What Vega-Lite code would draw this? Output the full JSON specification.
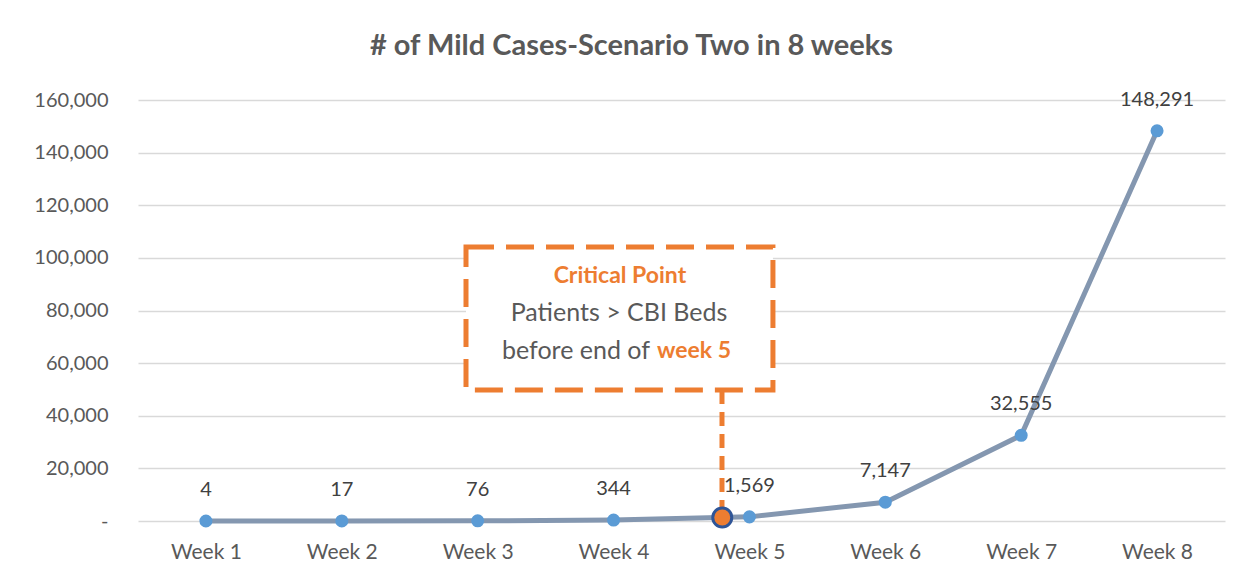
{
  "$schema": "https://vega.github.io/schema/vega-lite/v6.json",
  "width": 1087,
  "height": 421,
  "autosize": {"type": "none"},
  "padding": {"left": 138, "top": 100, "right": 21, "bottom": 59},
  "background": "white",
  "title": {
    "text": "# of Mild Cases-Scenario Two in 8 weeks",
    "font": "Lato",
    "fontSize": 29,
    "fontWeight": "bold",
    "color": "#595959",
    "anchor": "middle",
    "dx": -50,
    "offset": 29
  },
  "config": {
    "view": {"stroke": null},
    "font": "Lato"
  },
  "datasets": {
    "cases": [
      {"week": 1, "cases": 4},
      {"week": 2, "cases": 17},
      {"week": 3, "cases": 76},
      {"week": 4, "cases": 344},
      {"week": 5, "cases": 1569},
      {"week": 6, "cases": 7147},
      {"week": 7, "cases": 32555},
      {"week": 8, "cases": 148291}
    ],
    "box": [{"x1": 2.914, "x2": 5.173, "y1": 49786, "y2": 104133}],
    "rule": [{"x": 4.798, "y1": 49786, "y2": 1400}],
    "critical": [{"x": 4.8, "y": 1324}],
    "orangeCenter": [{"x": 4.047, "y": 93300, "t": "Critical Point"}],
    "grayCenter": [{"x": 4.04, "y": 79050, "t": "Patients > CBI Beds"}],
    "grayRight": [{"x": 4.268, "y": 64600, "t": "before end of"}],
    "orangeLeft": [{"x": 4.32, "y": 64600, "t": "week 5"}]
  },
  "layer": [
    {
      "data": {"name": "box"},
      "mark": {"type": "rect", "fill": "white", "stroke": "#ED7D31", "strokeWidth": 5, "strokeDash": [28, 12]},
      "encoding": {
        "x": {"field": "x1", "type": "quantitative", "scale": {"domain": [0.5, 8.5], "nice": false, "zero": false},
          "axis": {"values": [1,2,3,4,5,6,7,8], "labelExpr": "'Week ' + datum.value", "title": null, "domain": false, "ticks": false, "grid": false, "labelFont": "Lato", "labelFontSize": 21, "labelColor": "#595959", "labelPadding": 20}},
        "x2": {"field": "x2"},
        "y": {"field": "y1", "type": "quantitative", "scale": {"domain": [0, 160000], "nice": false},
          "axis": {"values": [0,20000,40000,60000,80000,100000,120000,140000,160000], "labelExpr": "datum.value == 0 ? '-       ' : format(datum.value, ',')", "title": null, "domain": false, "ticks": false, "grid": true, "gridColor": "#D9D9D9", "gridWidth": 1.3, "labelFont": "Lato", "labelFontSize": 20, "labelColor": "#595959", "labelPadding": 30}},
        "y2": {"field": "y2"}
      }
    },
    {
      "data": {"name": "rule"},
      "mark": {"type": "rule", "stroke": "#ED7D31", "strokeWidth": 5, "strokeDash": [14, 8]},
      "encoding": {
        "x": {"field": "x", "type": "quantitative"},
        "y": {"field": "y1", "type": "quantitative"},
        "y2": {"field": "y2"}
      }
    },
    {
      "data": {"name": "cases"},
      "mark": {"type": "line", "stroke": "#8497B0", "strokeWidth": 5},
      "encoding": {
        "x": {"field": "week", "type": "quantitative"},
        "y": {"field": "cases", "type": "quantitative"}
      }
    },
    {
      "data": {"name": "cases"},
      "mark": {"type": "point", "filled": true, "fill": "#5B9BD5", "size": 170, "opacity": 1},
      "encoding": {
        "x": {"field": "week", "type": "quantitative"},
        "y": {"field": "cases", "type": "quantitative"}
      }
    },
    {
      "data": {"name": "critical"},
      "mark": {"type": "point", "filled": true, "fill": "#ED7D31", "stroke": "#2F5597", "strokeWidth": 3, "size": 360, "opacity": 1},
      "encoding": {
        "x": {"field": "x", "type": "quantitative"},
        "y": {"field": "y", "type": "quantitative"}
      }
    },
    {
      "data": {"name": "cases"},
      "mark": {"type": "text", "dy": -31, "fontSize": 20, "font": "Lato", "color": "#404040", "baseline": "middle"},
      "encoding": {
        "x": {"field": "week", "type": "quantitative"},
        "y": {"field": "cases", "type": "quantitative"},
        "text": {"field": "cases", "type": "quantitative", "format": ","}
      }
    },
    {
      "data": {"name": "orangeCenter"},
      "mark": {"type": "text", "fontSize": 23, "font": "Lato", "fontWeight": "bold", "color": "#ED7D31", "align": "center", "baseline": "middle"},
      "encoding": {
        "x": {"field": "x", "type": "quantitative"},
        "y": {"field": "y", "type": "quantitative"},
        "text": {"field": "t"}
      }
    },
    {
      "data": {"name": "grayCenter"},
      "mark": {"type": "text", "fontSize": 25, "font": "Lato", "color": "#595959", "align": "center", "baseline": "middle"},
      "encoding": {
        "x": {"field": "x", "type": "quantitative"},
        "y": {"field": "y", "type": "quantitative"},
        "text": {"field": "t"}
      }
    },
    {
      "data": {"name": "grayRight"},
      "mark": {"type": "text", "fontSize": 25, "font": "Lato", "color": "#595959", "align": "right", "baseline": "middle"},
      "encoding": {
        "x": {"field": "x", "type": "quantitative"},
        "y": {"field": "y", "type": "quantitative"},
        "text": {"field": "t"}
      }
    },
    {
      "data": {"name": "orangeLeft"},
      "mark": {"type": "text", "fontSize": 23, "font": "Lato", "fontWeight": "bold", "color": "#ED7D31", "align": "left", "baseline": "middle"},
      "encoding": {
        "x": {"field": "x", "type": "quantitative"},
        "y": {"field": "y", "type": "quantitative"},
        "text": {"field": "t"}
      }
    }
  ]
}
